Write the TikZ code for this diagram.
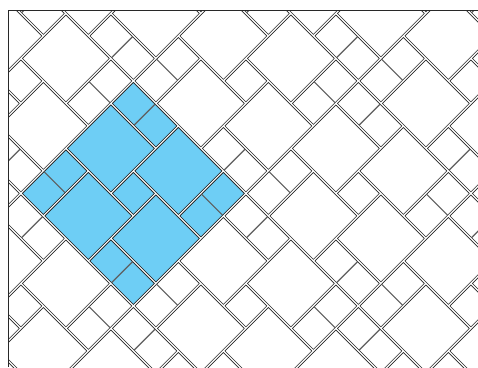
\documentclass[tikz,border=0pt]{standalone}
\usepackage{tikz}
\usepackage{xcolor}
\definecolor{cTile}{RGB}{110,206,245}
\definecolor{cLine}{RGB}{40,40,40}
\tikzset{
	tile/.style     ={draw=cLine, line width=0.6pt, fill=white},
	bluetile/.style ={tile, fill=cTile},
	seam/.style     ={draw=cLine!75, line width=1.1pt},
	frame/.style    ={draw=cLine, line width=0.7pt},
}
\newcommand{\gap}{0.035}
% one tile, lower corner (P,Q), size w x h in lattice units
\newcommand{\tileat}[5]{%
	\path[#5] ({#1+\gap},{#2+\gap}) -- ({#1+#3-\gap},{#2+\gap}) -- ({#1+#3-\gap},{#2+#4-\gap}) -- ({#1+\gap},{#2+#4-\gap}) -- cycle;}
\newcommand{\hdomino}[3]{%
	\tileat{#1}{#2}{2}{1}{#3}
	\draw[seam] ({#1+1},{#2+\gap}) -- ({#1+1},{#2+1-\gap});}
\newcommand{\vdomino}[3]{%
	\tileat{#1}{#2}{1}{2}{#3}
	\draw[seam] ({#1+\gap},{#2+1}) -- ({#1+1-\gap},{#2+1});}
% 5x5 pinwheel block
\newcommand{\pinblock}[3]{%
	\tileat{#1+2}{#2}{2}{2}{#3}
	\tileat{#1}{#2+1}{2}{2}{#3}
	\tileat{#1+1}{#2+3}{2}{2}{#3}
	\tileat{#1+3}{#2+2}{2}{2}{#3}
	\tileat{#1+2}{#2+2}{1}{1}{#3}
	\hdomino{#1}{#2}{#3}
	\vdomino{#1+4}{#2}{#3}
	\hdomino{#1+3}{#2+4}{#3}
	\vdomino{#1}{#2+3}{#3}}

\begin{document}
\begin{tikzpicture}[x=1pt, y=-1pt]
	\useasboundingbox (0,0) rectangle (478,367);
	\begin{scope}
		\clip (8,10) rectangle (480,370);
		\begin{scope}[shift={(133.35pt,-80.9pt)}, x={(22.5pt,-22.5pt)}, y={(-22.5pt,-22.5pt)}]
			\foreach \i in {-1,...,2}{
				\foreach \j in {-2,...,1}{
					\pinblock{5*\i}{5*\j}{tile}
				}
			}
			% highlighted block
			\pinblock{0}{0}{bluetile}
		\end{scope}
	\end{scope}
	\coordinate (tl) at (8,10);
	\coordinate (tr) at (478,10);
	\coordinate (bl) at (8,367);
	\draw[frame] (tr) -- (tl) -- (bl);
\end{tikzpicture}
\end{document}
